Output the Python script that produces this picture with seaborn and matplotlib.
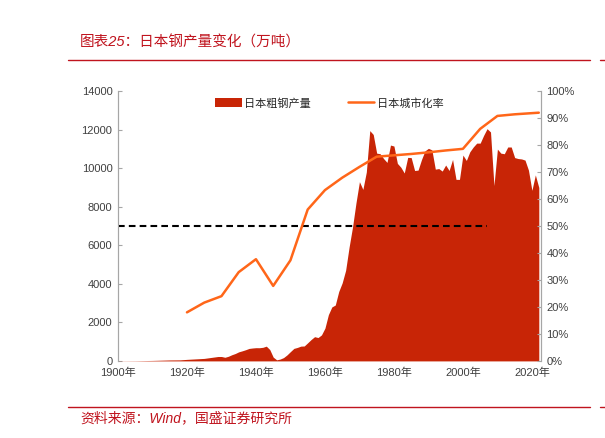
import numpy as np
import pandas as pd
import seaborn as sns
import matplotlib.pyplot as plt
from matplotlib.patches import Patch
from matplotlib.lines import Line2D

# 日本粗钢产量（万吨）
steel_years = [1900, 1905, 1910, 1915, 1918, 1920, 1925, 1929, 1930, 1931, 1932, 1933, 1934,
               1935, 1936, 1937, 1938, 1939, 1940, 1941, 1942, 1943, 1944, 1945, 1946, 1947,
               1948, 1949, 1950, 1951, 1952, 1953, 1954, 1955, 1956, 1957, 1958, 1959, 1960,
               1961, 1962, 1963, 1964, 1965, 1966, 1967, 1968, 1969, 1970, 1971, 1972, 1973,
               1974, 1975, 1976, 1977, 1978, 1979, 1980, 1981, 1982, 1983, 1984, 1985, 1986,
               1987, 1988, 1989, 1990, 1991, 1992, 1993, 1994, 1995, 1996, 1997, 1998, 1999,
               2000, 2001, 2002, 2003, 2004, 2005, 2006, 2007, 2008, 2009, 2010, 2011, 2012,
               2013, 2014, 2015, 2016, 2017, 2018, 2019, 2020, 2021, 2022]
steel_output = [5, 10, 25, 50, 55, 80, 130, 229, 229, 188, 240, 320, 384,
                470, 522, 580, 647, 670, 686, 684, 705, 765, 590, 196, 56, 95,
                172, 311, 484, 650, 699, 766, 775, 941, 1111, 1257, 1212, 1350, 1700,
                2400, 2800, 2900, 3600, 4050, 4700, 5900, 6950, 8200, 9300, 8900, 9800, 11950,
                11750, 10780, 10750, 10500, 10300, 11200, 11150, 10250, 10050, 9750, 10560, 10550, 9880,
                9900, 10450, 10900, 11030, 10950, 9950, 9980, 9850, 10164, 9880, 10454, 9420, 9419,
                10680, 10400, 10850, 11100, 11300, 11300, 11700, 12050, 11880, 9100, 10990, 10780, 10750,
                11100, 11100, 10550, 10500, 10480, 10420, 9900, 8850, 9650, 9000]

# 日本城市化率（%）
urban_years = [1920, 1925, 1930, 1935, 1940, 1945, 1950, 1955, 1960, 1965, 1970, 1975,
               1980, 1985, 1990, 1995, 2000, 2005, 2010, 2015, 2022]
urban_rate = [18.0, 21.6, 24.0, 32.9, 37.7, 27.8, 37.3, 56.1, 63.3, 67.9, 71.9, 75.7,
              76.2, 76.7, 77.3, 78.0, 78.6, 86.0, 90.8, 91.4, 92.0]

# 参考线（万吨）
ref_years = [1900, 2007]
ref_level = [7000, 7000]

x_ticks = [1900, 1920, 1940, 1960, 1980, 2000, 2020]
x_labels = [f"{y}年" for y in x_ticks]

df_steel = pd.DataFrame({'year': steel_years, 'output': steel_output})
df_urban = pd.DataFrame({'year': urban_years, 'rate': urban_rate})
df_ref = pd.DataFrame({'year': ref_years, 'level': ref_level})

sns.set_style('white')
plt.rcParams['font.family'] = ['Liberation Sans', 'Noto Sans CJK SC', 'DejaVu Sans']

fill_color = '#C82506'
line_color = '#FF6619'
title_color = '#C0141E'

fig = plt.figure(figsize=(6.05, 4.38), dpi=100)
ax = fig.add_axes([0.195, 0.176, 0.699, 0.616])
ax2 = ax.twinx()

ax.fill_between(df_steel['year'], df_steel['output'], color=fill_color, lw=0, zorder=2)
sns.lineplot(data=df_ref, x='year', y='level', ax=ax, color='black', lw=1.5,
             linestyle=(0, (3.2, 2)), zorder=3)
sns.lineplot(data=df_urban, x='year', y='rate', ax=ax2, color=line_color, lw=1.8)

ax.set_xlim(1900, 2022.6)
ax.set_ylim(0, 14000)
ax.set_yticks(range(0, 14001, 2000))
ax.set_xticks(x_ticks)
ax.set_xticklabels(x_labels)
ax2.set_ylim(0, 100)
ax2.set_yticks(range(0, 101, 10))
ax2.set_yticklabels([f"{v}%" for v in range(0, 101, 10)])

for a in (ax, ax2):
    a.set_xlabel('')
    a.set_ylabel('')
    for s in a.spines.values():
        s.set_color('#A6A6A6')
        s.set_linewidth(0.8)
    a.spines['top'].set_visible(False)
    a.spines['bottom'].set_visible(False)
    a.tick_params(labelsize=8, colors='#A6A6A6', labelcolor='#404040',
                  direction='in', length=3, width=0.8, pad=4)
ax.tick_params(axis='x', pad=5)

handles = [Patch(facecolor=fill_color, edgecolor='none'),
           Line2D([0], [0], color=line_color, lw=1.8)]
ax2.legend(handles, ['日本粗钢产量', '日本城市化率'], loc='center', bbox_to_anchor=(0.5, 0.955),
           ncol=2, frameon=False, fontsize=8, handlelength=2.4, handleheight=0.9,
           columnspacing=3.3, handletextpad=0.2)

# 标题与来源
fig.text(0.132, 0.904, '图表25：日本钢产量变化（万吨）', fontsize=10.5, color=title_color,
         style='italic', va='center')
fig.add_artist(Line2D([0.113, 0.975], [0.863, 0.863], color=title_color, lw=1))
fig.add_artist(Line2D([0.992, 1.0], [0.863, 0.863], color=title_color, lw=1))
fig.add_artist(Line2D([0.113, 0.975], [0.071, 0.071], color=title_color, lw=1))
fig.add_artist(Line2D([0.992, 1.0], [0.071, 0.071], color=title_color, lw=1))
fig.text(0.132, 0.045, '资料来源：Wind，国盛证券研究所', fontsize=10, color=title_color,
         style='italic', va='center')

fig.savefig('out.png', dpi=100)
